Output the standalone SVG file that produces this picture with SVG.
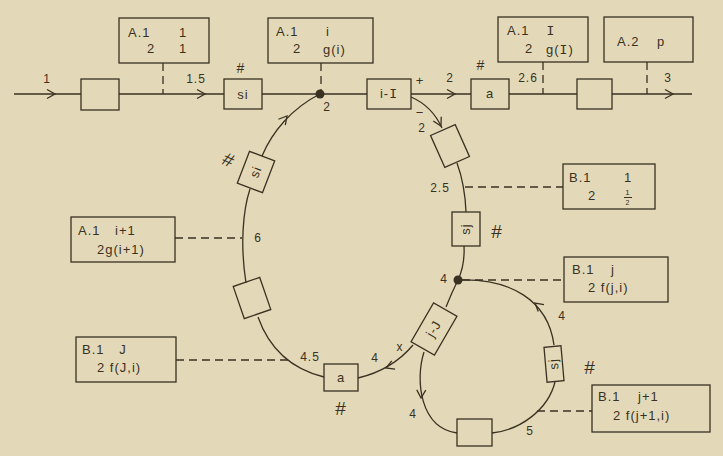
<svg xmlns="http://www.w3.org/2000/svg" width="723" height="456" viewBox="0 0 723 456">
<defs>
<style>
.ln{fill:none;stroke:#3a3122;stroke-width:1.3}
.dash{fill:none;stroke:#3a3122;stroke-width:1.3;stroke-dasharray:8 5}
.box{fill:none;stroke:#3a3122;stroke-width:1.3}
text{font-family:"Liberation Sans",Arial,sans-serif;font-size:13px;fill:#3a3122;letter-spacing:1px}
.m{text-anchor:middle}
.sm{font-size:12px}
.hash{font-size:14px;text-anchor:middle}
.big{font-size:19px;text-anchor:middle}
.ser{font-family:"DejaVu Sans Mono",monospace}
</style>
<path id="chev" d="M-8,-4.5 L0,0 L-8,4.5" class="ln"/>
</defs>
<rect width="723" height="456" fill="#e3d9b9"/>

<g id="connectors">
<path class="ln" d="M14,94 H81 M119,94 H224 M262,94 H367 M411,94 H471 M509,94 H577 M612,94 H692"/>
<use href="#chev" transform="translate(55,94)"/>
<use href="#chev" transform="translate(205,94)"/>
<use href="#chev" transform="translate(455,94)"/>
<use href="#chev" transform="translate(673,94)"/>
<path class="dash" d="M163,63 V94 M321,63 V90 M543,62 V94 M647,62 V94"/>
<circle cx="320" cy="94" r="4.5" fill="#3a3122"/>
<path class="ln" d="M262,156 C272,132 292,108 320,94"/>
<use href="#chev" transform="translate(287,116) rotate(-50)"/>
<path class="ln" d="M250,189 C243,210 240,245 246,283"/>
<path class="ln" d="M258,317 Q275,365 324,377"/>
<path class="ln" d="M358,378 Q392,370 413,345"/>
<use href="#chev" transform="translate(386,368) rotate(158)"/>
<path class="ln" d="M446,307 Q452,292 458,280"/>
<path class="ln" d="M458,280 Q465,265 464,246"/>
<path class="ln" d="M466,212 Q465,185 457,163"/>
<path class="ln" d="M411,97 Q432,106 442,128"/>
<use href="#chev" transform="translate(441,126) rotate(62)"/>
<path class="ln" d="M458,280 C510,278 548,300 554,345"/>
<use href="#chev" transform="translate(535,303) rotate(-140)"/>
<path class="ln" d="M555,382 C548,410 520,430 492,433"/>
<path class="ln" d="M424,352 C415,380 420,428 457,433"/>
<use href="#chev" transform="translate(421,398) rotate(92)"/>
<path class="dash" d="M465,187 H563 M462,280 H564 M537,411 H592 M175,238 H242 M176,360 H290"/>
</g>

<g id="n-in"><text x="47" y="83" class="m sm">1</text></g>
<g id="n-box1"><rect class="box" x="81" y="79" width="38" height="31"/></g>
<g id="n-A1-1"><rect class="box" x="119" y="18" width="90" height="45"/>
<text x="128" y="37">A.1</text><text x="183" y="37" class="m">1</text>
<text x="151" y="53" class="m">2</text><text x="183" y="53" class="m">1</text></g>
<g id="l-15"><text x="196" y="83" class="m sm">1.5</text></g>
<g id="n-si-top"><rect class="box" x="224" y="79" width="38" height="30"/><text x="243" y="99" class="m">si</text><text x="241" y="73" class="hash">#</text></g>
<g id="n-A1-i"><rect class="box" x="268" y="18" width="105" height="45"/>
<text x="276" y="36">A.1</text><text x="328" y="36" class="m">i</text>
<text x="297" y="53" class="m">2</text><text x="323" y="54">g(i)</text></g>
<g id="l-2a"><text x="327" y="111" class="m sm">2</text></g>
<g id="n-iI"><rect class="box" x="367" y="79" width="44" height="30"/><text x="389" y="98" class="m">i-<tspan class="ser">I</tspan></text></g>
<g id="l-plus"><text x="420" y="85" class="m">+</text><text x="450" y="82" class="m sm">2</text></g>
<g id="n-a-top"><rect class="box" x="471" y="79" width="38" height="30"/><text x="490" y="98" class="m">a</text><text x="481" y="70" class="hash">#</text></g>
<g id="l-26"><text x="528" y="82" class="m sm">2.6</text></g>
<g id="n-A1-I"><rect class="box" x="498" y="17" width="90" height="45"/>
<text x="507" y="35">A.1</text><text x="551" y="35" class="m ser">I</text>
<text x="529" y="53" class="m">2</text><text x="546" y="54">g(<tspan class="ser">I</tspan>)</text></g>
<g id="n-box2"><rect class="box" x="577" y="79" width="35" height="30"/></g>
<g id="n-A2-p"><rect class="box" x="604" y="17" width="89" height="45"/>
<text x="617" y="46">A.2</text><text x="661" y="46" class="m">p</text></g>
<g id="l-3"><text x="668" y="82" class="m sm">3</text></g>

<g id="n-tilt1"><rect class="box" x="-13.5" y="-17.5" width="27" height="35" transform="translate(450,146) rotate(-24)"/></g>
<g id="l-m2"><text x="420" y="117" class="m">−</text><text x="422" y="132" class="m sm">2</text></g>
<g id="l-25"><text x="440" y="192" class="m sm">2.5</text></g>
<g id="n-B1-1"><rect class="box" x="563" y="164" width="92" height="45"/>
<text x="569" y="182">B.1</text><text x="628" y="182" class="m">1</text>
<text x="592" y="200" class="m">2</text>
<text x="628" y="195" class="m" style="font-size:8px">1</text>
<path class="ln" d="M624,197.5 H632" style="stroke-width:1"/>
<text x="628" y="205" class="m" style="font-size:7px">2</text></g>
<g id="n-sj1"><rect class="box" x="452" y="212" width="28" height="34"/>
<text transform="translate(466,229) rotate(-90)" y="4" class="m">sj</text>
<text x="497" y="238" class="big">#</text></g>
<g id="l-4a"><text x="444" y="283" class="m sm">4</text></g>
<circle cx="458" cy="280" r="4.5" fill="#3a3122"/>
<g id="n-B1-j"><rect class="box" x="564" y="257" width="104" height="45"/>
<text x="572" y="274">B.1</text><text x="613" y="274" class="m">j</text>
<text x="588" y="292">2 f(j,i)</text></g>
<g id="n-jJ"><rect class="box" x="-13.5" y="-22.5" width="27" height="45" transform="translate(434,329) rotate(30)"/>
<text transform="translate(434,329) rotate(-60)" y="4" class="m">j-J</text></g>
<g id="l-4b"><text x="562" y="320" class="m sm">4</text></g>
<g id="n-sj2"><rect class="box" x="-8.5" y="-17.5" width="17" height="35" transform="translate(554,364) rotate(-5)"/>
<text transform="translate(554,364) rotate(-95)" y="4" class="m">sj</text>
<text x="590" y="374" class="big">#</text></g>
<g id="n-box3"><rect class="box" x="457" y="419" width="35" height="27"/></g>
<g id="l-5"><text x="530" y="435" class="m sm">5</text><text x="413" y="418" class="m sm">4</text></g>
<g id="n-B1-j1"><rect class="box" x="592" y="385" width="118" height="47"/>
<text x="598" y="401">B.1</text><text x="638" y="401">j+1</text>
<text x="613" y="420">2 f(j+1,i)</text></g>
<g id="l-x"><text x="400" y="351" class="m sm">x</text><text x="375" y="362" class="m sm">4</text></g>
<g id="n-a-low"><rect class="box" x="324" y="364" width="34" height="27"/><text x="341" y="382" class="m">a</text>
<text x="341" y="415" class="big">#</text></g>
<g id="l-45"><text x="310" y="361" class="m sm">4.5</text></g>
<g id="n-B1-J"><rect class="box" x="76" y="337" width="100" height="45"/>
<text x="82" y="354">B.1</text><text x="123" y="354" class="m">J</text>
<text x="97" y="372">2 f(J,i)</text></g>
<g id="n-tilt2"><rect class="box" x="-14" y="-17" width="28" height="34" transform="translate(252,298) rotate(-19)"/></g>
<g id="l-6"><text x="258" y="242" class="m sm">6</text></g>
<g id="n-A1-i1"><rect class="box" x="71" y="217" width="104" height="45"/>
<text x="78" y="235">A.1</text><text x="115" y="235">i+1</text>
<text x="97" y="254">2g(i+1)</text></g>
<g id="n-si-left"><rect class="box" x="-13.5" y="-17" width="27" height="34" transform="translate(256,172) rotate(21)"/>
<text transform="translate(256,172) rotate(-69)" y="4" class="m">si</text>
<text transform="translate(226,166) rotate(25)" class="big">#</text></g>
</svg>
